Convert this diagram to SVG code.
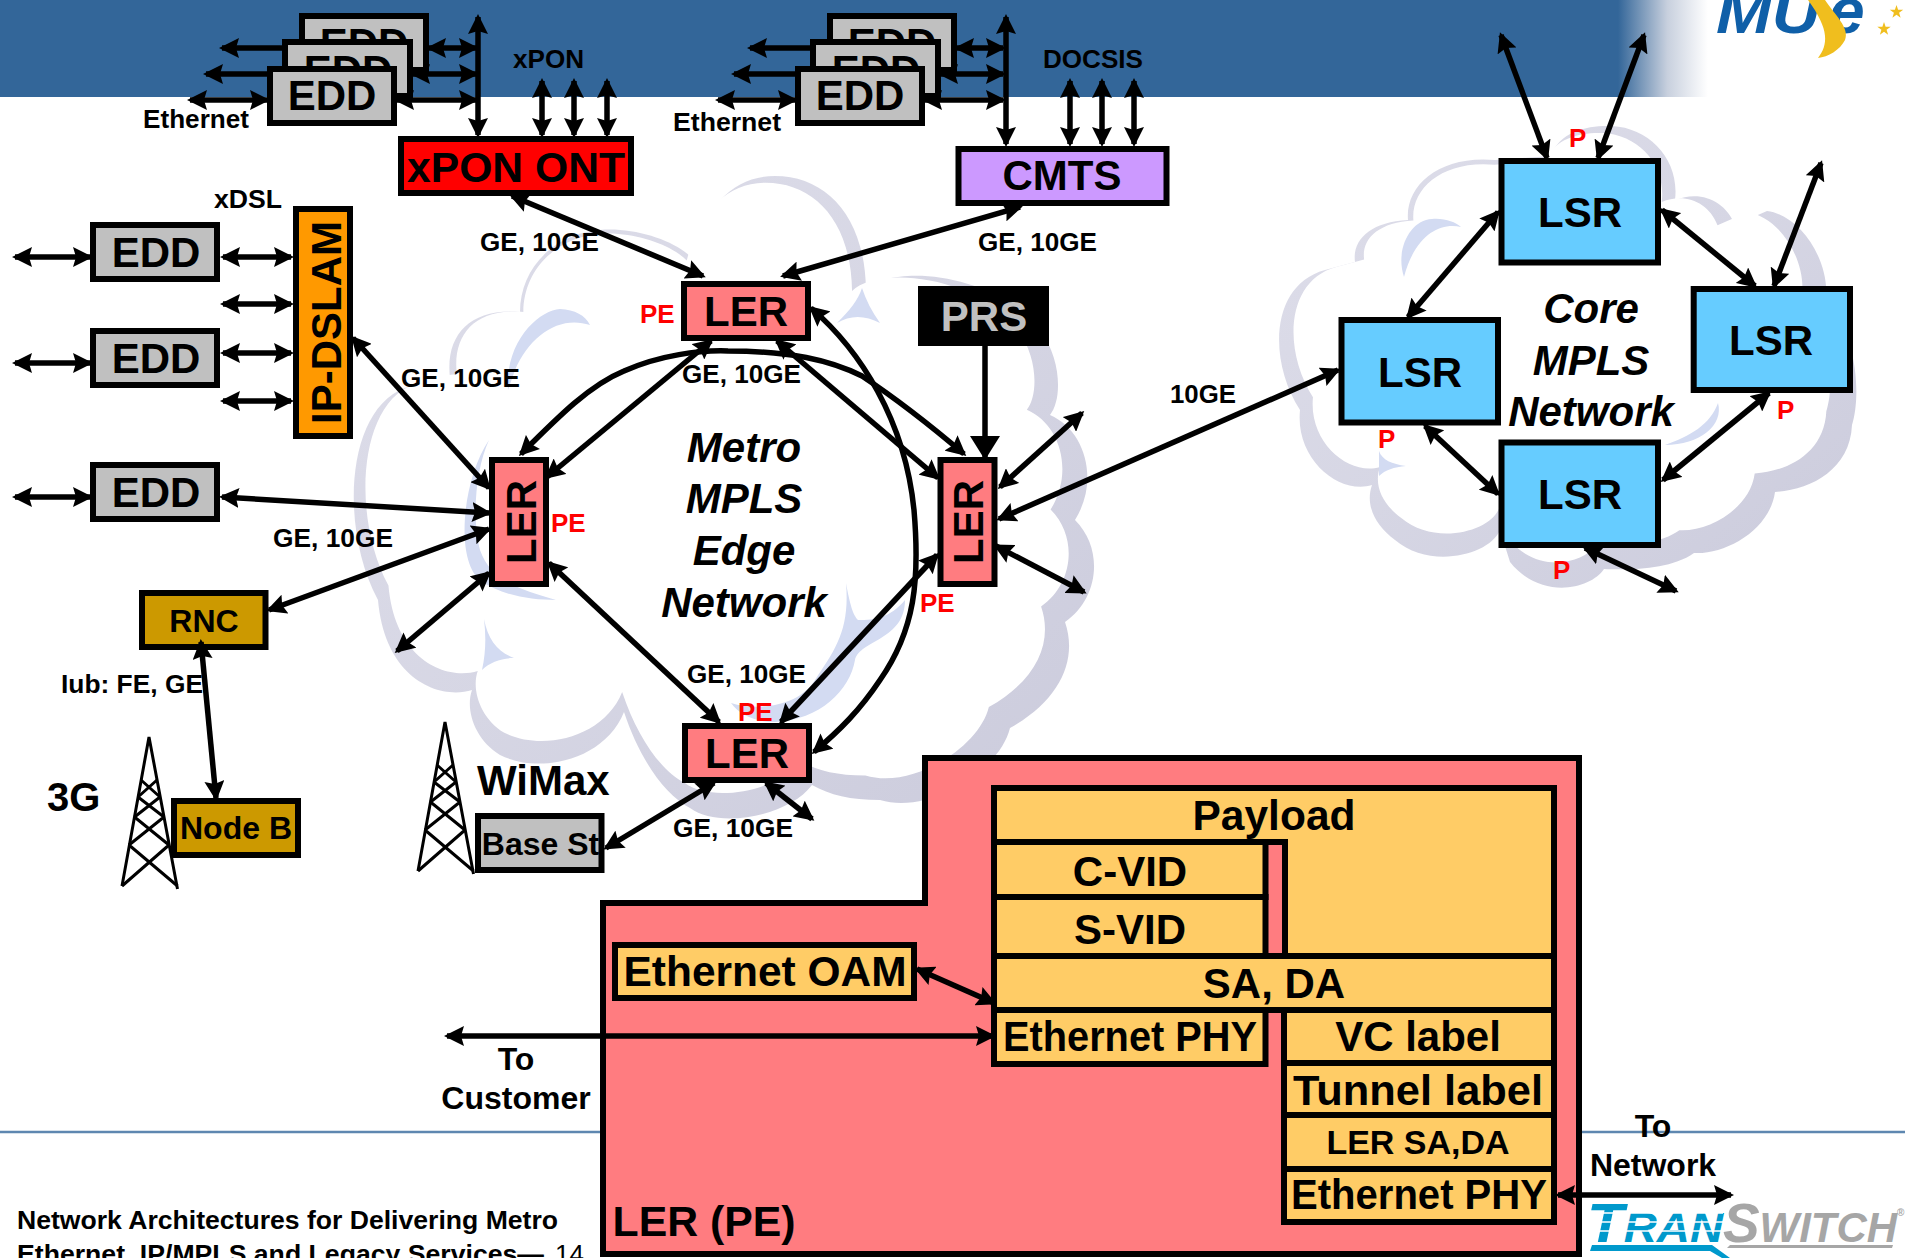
<svg xmlns="http://www.w3.org/2000/svg" xmlns:xlink="http://www.w3.org/1999/xlink" width="1905" height="1258" viewBox="0 0 1905 1258">
<style>
text{font-family:"Liberation Sans",Arial,sans-serif;font-weight:bold;fill:#000}
.n{stroke:#000;stroke-width:6}
.g{fill:#C0C0C0}.p{fill:#FF7C80}.b{fill:#66CCFF}.y{fill:#FFCC66}.o{fill:#CC9900}
.big{font-size:42px;text-anchor:middle}
.mid{font-size:32px;text-anchor:middle}
.l{font-size:25px}
.r{font-size:26px;fill:#FF0000}
.it{font-size:42px;font-style:italic;text-anchor:middle}
.c{fill:none;stroke:#000;stroke-width:5.500;marker-start:url(#h);marker-end:url(#h)}
.s{fill:none;stroke:#000;stroke-width:5.500;marker-end:url(#h)}
.t{fill:none;stroke:#000;stroke-width:3}
.cl{fill:url(#shade)}
.cw{fill:#fff}
.cb{fill:#D3DBF2}
.sl{stroke:#5E87B0;stroke-width:2.500}
</style>
<defs>
<marker id="h" markerUnits="userSpaceOnUse" viewBox="0 0 20 20" markerWidth="20" markerHeight="20" refX="17" refY="10" orient="auto-start-reverse"><path d="M20 10L0 0L3 10L0 20Z" fill="#000"/></marker>
<marker id="hb" markerUnits="userSpaceOnUse" viewBox="0 0 24 30" markerWidth="24" markerHeight="30" refX="22" refY="15" orient="auto"><path d="M24 15L0 0L0 30Z" fill="#000"/></marker>
<linearGradient id="fade" gradientUnits="userSpaceOnUse" x1="1618" y1="0" x2="1708" y2="0"><stop offset="0" stop-color="#336699"/><stop offset=".55" stop-color="#C8D0DE"/><stop offset="1" stop-color="#fff"/></linearGradient>
<linearGradient id="shade" x1="0" y1="0" x2="1" y2="1"><stop offset="0" stop-color="#DEDEEA"/><stop offset=".5" stop-color="#D6D6E4"/><stop offset="1" stop-color="#CBCBDC"/></linearGradient>
<path id="metro" d="M378 600C340 530 345 410 405 388C425 380 440 378 450 378C445 335 470 308 520 312C520 265 560 225 620 230C650 232 680 245 692 258C705 205 735 176 775 176C825 176 865 215 866 290C890 265 990 270 1040 330C1062 360 1062 400 1050 415C1085 430 1100 480 1075 520C1105 550 1098 600 1065 622C1078 660 1060 700 1010 728C1000 770 930 815 880 800C850 800 830 795 812 785C790 815 720 830 690 808C665 795 640 760 624 712C605 760 540 775 500 755C475 740 465 710 472 690C440 700 385 680 378 600Z"/>
<path id="core" d="M1300 410C1268 360 1270 285 1325 270L1355 262C1352 240 1370 222 1408 220C1405 185 1440 155 1495 160L1551 156C1560 130 1590 125 1612 126C1650 128 1680 160 1675 200C1700 190 1725 200 1735 225L1767 211C1800 215 1830 260 1826 300C1860 340 1860 400 1852 425C1850 470 1810 490 1775 492C1770 530 1725 555 1694 553C1670 570 1630 570 1604 569C1590 590 1540 600 1510 562L1500 530C1490 555 1430 570 1395 540C1375 525 1365 505 1372 485C1340 495 1295 460 1300 410Z"/>
<g id="twr" class="t"><path d="M122 886L149 737L177.500 889"/><path d="M141 780L160 797M157 780L138 797M138 797L164 817M160 797L134.500 817M134.500 817L169 845M164 817L129 845M129 845L177.500 886M169 845L122 886"/></g>
<polygon id="star" points="0,-7 1.600,-2.200 6.700,-2.200 2.600,.8 4.100,5.700 0,2.700 -4.100,5.700 -2.600,.8 -6.700,-2.200 -1.600,-2.200" fill="#F0BE1E"/>
</defs>

<rect width="1905" height="1258" fill="#fff"/>
<g id="band">
<rect x="0" y="0" width="1618" height="97" fill="#336699"/>
<rect x="1618" y="0" width="90" height="97" fill="url(#fade)"/>
</g>
<g id="muse-logo">
<text x="1716" y="33" style="fill:#0F5FA8;font-size:60px;font-style:italic" textLength="104" lengthAdjust="spacingAndGlyphs">MU</text>
<text x="1829" y="33" style="fill:#0F5FA8;font-size:64px;font-style:italic">e</text>
<path d="M1808 0L1825 0C1835 15 1850 28 1845 40C1840 50 1828 57 1818 58C1828 45 1830 30 1808 0Z" fill="#F0BE1E"/>
<use xlink:href="#star" x="1896.500" y="12"/><use xlink:href="#star" x="1884" y="29"/>
</g>
<g id="clouds">
<use xlink:href="#metro" class="cl"/>
<use xlink:href="#metro" class="cw" transform="translate(720 500) scale(.95) translate(-720 -500) translate(-7 -10)"/>
<path class="cb" d="M837 323C850 310 858 300 862 288C866 300 872 312 880 323C865 315 850 315 837 323Z"/>
<path class="cb" d="M484 619C488 640 498 652 514 658C502 658 490 662 482 670C486 652 486 636 484 619Z"/>
<path class="cb" d="M489 440C462 480 455 560 480 580C500 595 530 600 556 600C520 590 490 580 480 550C472 520 475 470 489 440Z"/>
<path class="cb" d="M508 390C505 340 540 310 560 309C575 310 585 315 590 325C560 315 530 335 515 370Z"/>
<path class="cb" d="M846 583C850 605 853 615 858 620C875 620 890 618 905 600C905 640 860 640 855 660C850 690 820 720 775 722C755 722 740 715 731 703C760 712 800 705 815 680C835 650 850 630 846 583Z"/>
<use xlink:href="#core" class="cl"/>
<use xlink:href="#core" class="cw" transform="translate(1565 360) scale(.93) translate(-1565 -360) translate(-6 -10)"/>
<path class="cb" d="M1379 451C1382 460 1392 464 1406 466C1394 467 1385 470 1379 476Z"/>
<path class="cb" d="M1404 277C1395 250 1410 220 1432 219C1445 218 1455 222 1461 227C1440 222 1415 235 1404 277Z"/>
<path class="cb" d="M1718 403C1724 425 1700 445 1665 445C1690 436 1710 425 1718 403Z"/>
</g>

<g id="tower-3g"><use xlink:href="#twr"/></g>
<g id="tower-wimax"><use xlink:href="#twr" transform="translate(296 -15)"/></g>

<g id="edd-a1"><rect class="n g" x="302" y="16" width="124" height="54"/><text class="big" x="364" y="58">EDD</text></g>
<g id="edd-a2"><rect class="n g" x="285" y="42" width="125" height="54"/><text class="big" x="348" y="85">EDD</text></g>
<g id="edd-a3"><rect class="n g" x="270" y="69" width="124" height="54"/><text class="big" x="332" y="110">EDD</text></g>
<g id="edd-b1"><rect class="n g" x="830" y="16" width="124" height="54"/><text class="big" x="892" y="58">EDD</text></g>
<g id="edd-b2"><rect class="n g" x="813" y="42" width="125" height="54"/><text class="big" x="876" y="85">EDD</text></g>
<g id="edd-b3"><rect class="n g" x="798" y="69" width="124" height="54"/><text class="big" x="860" y="110">EDD</text></g>
<g id="xpon-ont"><rect class="n" fill="#FF0000" x="401" y="139" width="230" height="54"/><text class="big" x="516" y="182" textLength="218" lengthAdjust="spacingAndGlyphs">xPON ONT</text></g>
<g id="cmts"><rect class="n" fill="#CC99FF" x="958.500" y="149" width="208" height="54"/><text class="big" x="1062" y="190">CMTS</text></g>
<g id="ip-dslam"><rect class="n" fill="#FF9900" x="296" y="209" width="54" height="227"/><text class="big" transform="translate(341 322.500) rotate(-90)">IP-DSLAM</text></g>
<g id="edd-1"><rect class="n g" x="93" y="225" width="124" height="54"/><text class="big" x="156" y="267">EDD</text></g>
<g id="edd-2"><rect class="n g" x="93" y="331" width="124" height="54"/><text class="big" x="156" y="373">EDD</text></g>
<g id="edd-3"><rect class="n g" x="93" y="465" width="124" height="54"/><text class="big" x="156" y="507">EDD</text></g>
<g id="ler-top"><rect class="n p" x="684" y="284" width="124" height="54"/><text class="big" x="746" y="326">LER</text></g>
<g id="ler-left"><rect class="n p" x="492" y="460" width="54" height="124"/><text class="big" transform="translate(535.500 522) rotate(-90)">LER</text></g>
<g id="ler-right"><rect class="n p" x="940.500" y="460" width="54" height="124"/><text class="big" transform="translate(983 522) rotate(-90)">LER</text></g>
<g id="ler-bottom"><rect class="n p" x="685" y="726" width="124" height="54"/><text class="big" x="747" y="768">LER</text></g>
<g id="prs"><rect fill="#000" x="918" y="286" width="131" height="60"/><text class="big" x="984" y="331" style="fill:#C0C0C0">PRS</text></g>
<g id="rnc"><rect class="n o" x="142" y="593" width="123.500" height="54"/><text class="mid" x="204" y="632">RNC</text></g>
<g id="node-b"><rect class="n o" x="174" y="801" width="124" height="54"/><text class="mid" x="236" y="839">Node B</text></g>
<g id="base-st"><rect class="n g" x="478" y="816" width="123.500" height="54"/><text class="mid" x="540.500" y="855">Base St</text></g>
<g id="lsr-top"><rect class="n b" x="1501.500" y="161" width="156.500" height="101.500"/><text class="big" x="1580" y="227">LSR</text></g>
<g id="lsr-left"><rect class="n b" x="1341.500" y="320" width="156.500" height="102.500"/><text class="big" x="1420" y="387">LSR</text></g>
<g id="lsr-right"><rect class="n b" x="1693.700" y="289" width="156.300" height="101"/><text class="big" x="1771" y="355">LSR</text></g>
<g id="lsr-bottom"><rect class="n b" x="1501.500" y="442.500" width="156.500" height="102.500"/><text class="big" x="1580" y="509">LSR</text></g>

<g id="ler-pe">
<path class="n p" d="M925 758H1579V1254H603V903H925Z"/>
<rect class="n y" x="615" y="945" width="299" height="53"/>
<text class="big" x="765" y="986" textLength="283" lengthAdjust="spacingAndGlyphs">Ethernet OAM</text>
<path class="n y" d="M994 788H1554V956H1285V842H994Z"/>
<rect class="n y" x="994" y="842" width="271.500" height="55"/>
<rect class="n y" x="994" y="897" width="271.500" height="59"/>
<rect class="n y" x="994" y="956" width="560" height="54"/>
<rect class="n y" x="994" y="1010" width="271.500" height="54"/>
<rect class="n y" x="1284" y="1010" width="270" height="53"/>
<rect class="n y" x="1284" y="1063" width="270" height="52"/>
<rect class="n y" x="1284" y="1115" width="270" height="54"/>
<rect class="n y" x="1284" y="1169" width="270" height="53"/>
<text class="big" x="1274" y="830" textLength="163" lengthAdjust="spacingAndGlyphs">Payload</text>
<text class="big" x="1130" y="886">C-VID</text>
<text class="big" x="1130" y="944">S-VID</text>
<text class="big" x="1274" y="998">SA, DA</text>
<text class="big" x="1130" y="1051" textLength="254" lengthAdjust="spacingAndGlyphs">Ethernet PHY</text>
<text class="big" x="1418" y="1051">VC label</text>
<text class="big" x="1418" y="1105" textLength="250" lengthAdjust="spacingAndGlyphs">Tunnel label</text>
<text class="big" x="1418" y="1154" style="font-size:34px">LER SA,DA</text>
<text class="big" x="1419" y="1209" textLength="256" lengthAdjust="spacingAndGlyphs">Ethernet PHY</text>
<text class="big" x="704" y="1236" textLength="183" lengthAdjust="spacingAndGlyphs">LER (PE)</text>
</g>

<g id="rules">
<line class="sl" x1="0" y1="1132" x2="600" y2="1132"/>
<line class="sl" x1="1582" y1="1132" x2="1905" y2="1132"/>
</g>

<g id="connectors">
<path class="s" d="M285 48H222"/><path class="s" d="M270 74H206"/><path class="c" d="M267 100H190"/>
<path class="c" d="M429 48H476"/><path class="c" d="M413 74H476"/><path class="c" d="M397 100H476"/>
<path class="c" d="M478 17V135"/><path class="c" d="M542 81V135"/><path class="c" d="M574 81V135"/><path class="c" d="M607 81V135"/>
<path class="s" d="M813 48H750"/><path class="s" d="M798 74H734"/><path class="c" d="M795 100H718"/>
<path class="c" d="M957 48H1003"/><path class="c" d="M941 74H1003"/><path class="c" d="M925 100H1003"/>
<path class="c" d="M1006 17V144"/><path class="c" d="M1070 81V144"/><path class="c" d="M1102 81V144"/><path class="c" d="M1134 81V144"/>
<path class="c" d="M15 257H90"/><path class="c" d="M15 363H90"/><path class="c" d="M15 497H90"/>
<path class="c" d="M223 257H291"/><path class="c" d="M223 304H291"/><path class="c" d="M223 353H291"/><path class="c" d="M223 401H291"/>
<path class="c" d="M353 338L489 488"/>
<path class="c" d="M512 196L703 276"/>
<path class="c" d="M1020 207L783 276"/>
<path class="c" d="M711 341L547 477"/>
<path class="c" d="M521 454C560 415 590 385 624 371C660 355 700 350 728 351C790 351 830 360 862 376C895 398 930 425 964 454"/>
<path class="c" d="M777 341L938 478"/>
<path class="c" d="M811 308C860 350 905 420 914 510C920 580 915 630 880 680C860 710 840 730 814 752"/>
<path class="c" d="M937 555L781 722"/>
<path class="c" d="M549 563L719 722"/>
<path fill="none" stroke="#000" stroke-width="5.500" marker-end="url(#hb)" d="M985 346V458"/>
<path class="c" d="M1000 487L1082 413"/>
<path class="c" d="M1338 370L999 519"/>
<path class="c" d="M996 546L1084 592"/>
<path class="c" d="M714 783L606 848"/>
<path class="c" d="M766 783L812 819"/>
<path class="c" d="M222 497L489 513"/>
<path class="c" d="M269 610L489 529"/>
<path class="c" d="M489 573L397 651"/>
<path class="c" d="M201 642L216 798"/>
<path class="c" d="M1547 158L1501 35"/>
<path class="c" d="M1598 158L1644 35"/>
<path class="c" d="M1498 212L1408 317"/>
<path class="c" d="M1662 210L1755 286"/>
<path class="c" d="M1774 286L1821 163"/>
<path class="c" d="M1769 393L1663 480"/>
<path class="c" d="M1425 426L1498 494"/>
<path class="c" d="M1585 548L1676 591"/>
<path class="c" d="M917 969L994 1003"/>
<path class="c" d="M447 1036H993"/>
<path class="c" d="M1558 1195H1731"/>
</g>

<g id="labels">
<text class="l" x="143" y="128" textLength="106" lengthAdjust="spacingAndGlyphs">Ethernet</text>
<text class="l" x="673" y="131" textLength="108" lengthAdjust="spacingAndGlyphs">Ethernet</text>
<text class="l" x="513" y="68" textLength="71" lengthAdjust="spacingAndGlyphs">xPON</text>
<text class="l" x="1043" y="68" textLength="100" lengthAdjust="spacingAndGlyphs">DOCSIS</text>
<text class="l" x="214" y="208" textLength="68" lengthAdjust="spacingAndGlyphs">xDSL</text>
<text class="l" x="480" y="251" textLength="119" lengthAdjust="spacingAndGlyphs">GE, 10GE</text>
<text class="l" x="978" y="251" textLength="119" lengthAdjust="spacingAndGlyphs">GE, 10GE</text>
<text class="l" x="401" y="387" textLength="119" lengthAdjust="spacingAndGlyphs">GE, 10GE</text>
<text class="l" x="682" y="383" textLength="119" lengthAdjust="spacingAndGlyphs">GE, 10GE</text>
<text class="l" x="273" y="547" textLength="120" lengthAdjust="spacingAndGlyphs">GE, 10GE</text>
<text class="l" x="687" y="683" textLength="119" lengthAdjust="spacingAndGlyphs">GE, 10GE</text>
<text class="l" x="673" y="837" textLength="120" lengthAdjust="spacingAndGlyphs">GE, 10GE</text>
<text class="l" x="1170" y="403" textLength="66" lengthAdjust="spacingAndGlyphs">10GE</text>
<text class="l" x="61" y="693" textLength="142" lengthAdjust="spacingAndGlyphs">Iub: FE, GE</text>
<text class="r" x="640" y="323">PE</text>
<text class="r" x="551" y="532">PE</text>
<text class="r" x="920" y="612">PE</text>
<text class="r" x="738" y="721">PE</text>
<text class="r" x="1569" y="147">P</text>
<text class="r" x="1777" y="419">P</text>
<text class="r" x="1378" y="448">P</text>
<text class="r" x="1553" y="579">P</text>
<text class="it" x="744" y="462">Metro</text>
<text class="it" x="744" y="513">MPLS</text>
<text class="it" x="744" y="565">Edge</text>
<text class="it" x="744" y="617">Network</text>
<text class="it" x="1591" y="323">Core</text>
<text class="it" x="1591" y="375">MPLS</text>
<text class="it" x="1591" y="426">Network</text>
<text x="47" y="811" style="font-size:40px">3G</text>
<text x="477" y="795" style="font-size:42px">WiMax</text>
<text class="mid" x="516" y="1070">To</text>
<text class="mid" x="516" y="1109">Customer</text>
<text class="mid" x="1653" y="1137">To</text>
<text class="mid" x="1653" y="1176">Network</text>
<text x="17" y="1229" style="font-size:26px" textLength="541" lengthAdjust="spacingAndGlyphs">Network Architectures for Delivering Metro</text>
<text x="17" y="1263" style="font-size:26px" textLength="527" lengthAdjust="spacingAndGlyphs">Ethernet, IP/MPLS and Legacy Services—</text>
<text x="555" y="1263" style="font-size:26px;font-weight:normal">14</text>
</g>

<g id="transwitch-logo">
<text x="1587" y="1242" textLength="136" lengthAdjust="spacingAndGlyphs" style="font-size:42px;font-style:italic;fill:#0099CC"><tspan style="font-size:55px;fill:#0099CC">T</tspan>RAN</text>
<path d="M1587 1213H1723M1587 1222H1723M1587 1231H1723" stroke="#fff" stroke-width="1.500" fill="none"/>
<text x="1723" y="1242" textLength="174" lengthAdjust="spacingAndGlyphs" style="font-size:42px;font-style:italic;fill:#A6A6A6"><tspan style="font-size:55px;fill:#A6A6A6">S</tspan>WITCH</text>
<text x="1897" y="1216" style="font-size:10px;fill:#A6A6A6">®</text>
<path d="M1592 1245H1712L1730 1258H1722L1710 1251H1590Z" fill="#0099CC"/>
<path d="M1730 1245H1893L1892 1248H1727Z" fill="#A6A6A6"/>
</g>
</svg>
